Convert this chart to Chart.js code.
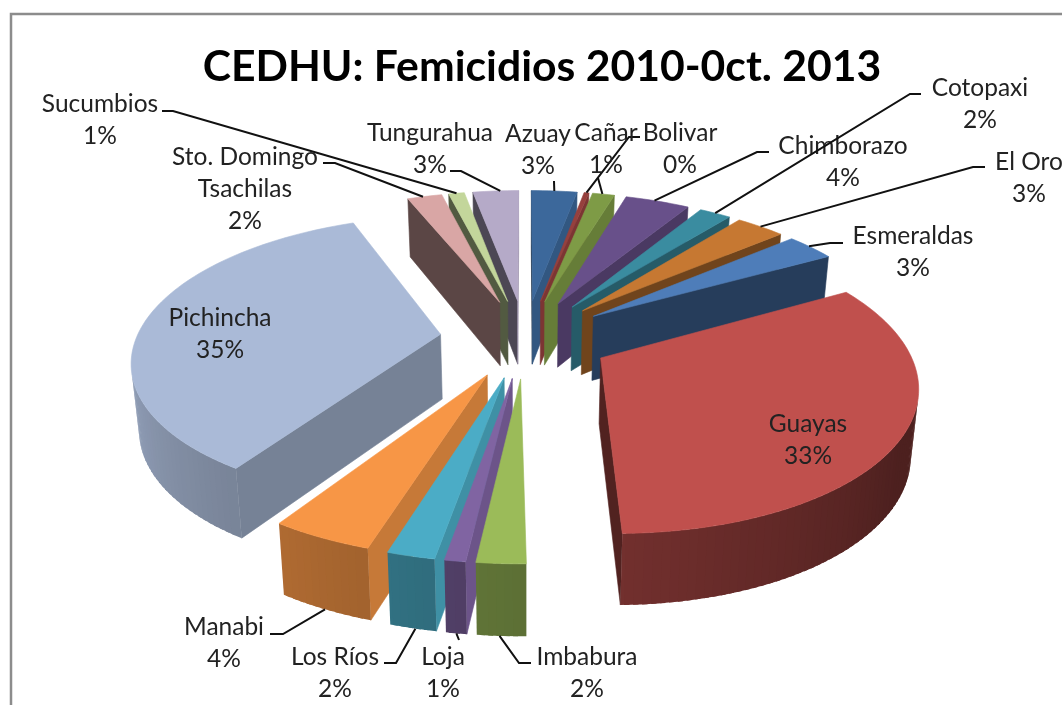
<!DOCTYPE html>
<html lang="es">
<head>
<meta charset="utf-8">
<title>CEDHU: Femicidios</title>
<script src="https://cdn.jsdelivr.net/npm/chart.js@4"></script>
<style>
  html, body { margin: 0; background: #fff; overflow: hidden; }
  canvas { display: block; }
</style>
</head>
<body>
<canvas id="grafico" width="1062" height="705"></canvas>
<script>
// Datos
const provincias = ["Azuay", "Bolivar", "Cañar", "Chimborazo", "Cotopaxi", "El Oro", "Esmeraldas", "Guayas",
  "Imbabura", "Loja", "Los Ríos", "Manabi", "Pichincha", "Sto. Domingo\nTsachilas", "Sucumbios", "Tungurahua"];
const valores = [2.9, 0.3, 1.4, 4.1, 2, 3.1, 3.1, 32.8, 2.1, 0.9, 2.05, 4.4, 34.7, 2.2, 1, 2.9];
const porcentajes = ["3%", "0%", "1%", "4%", "2%", "3%", "3%", "33%", "2%", "1%", "2%", "4%", "35%", "2%", "1%", "3%"];

const colores = ["#3C689B", "#96403D", "#7E9B46", "#68508A", "#3A8CA0", "#C67832", "#4E7DB9", "#C0504D",
  "#9BBB59", "#8064A2", "#4BACC6", "#F79646", "#AABAD7", "#D9A6A5", "#C3D69B", "#B5AAC8"];

// Centro del texto (x, y de la primera linea) por provincia
const posTexto = [[538, 134], [680, 133], [606, 133], [843, 146], [980, 88], [1029, 162], [913, 236], [808, 424],
  [587, 657], [443, 657], [335, 657], [224, 627], [220, 318], [245, 157], [100, 104], [430, 133]];

// Tramo horizontal de cada linea guia, null si no hay; el ultimo punto sale del sector
const codos = [
  [[554, 181]], [[640, 137], [629, 137]], [[598, 178]], [[769, 152], [757, 152]], [[921, 94], [910, 94]],
  [[985, 167], [973, 167]], [[843, 243], [830, 243]], null,
  [[531, 663], [519, 663]], [[459, 640]], [[384, 663], [396, 663]], [[270, 634], [283, 634]], null,
  [[323, 163], [335, 163]], [[162, 111], [173, 111]], [[450, 171], [461, 171]]
];
// Punto del borde donde termina la guia (0 = inicio del sector, 1 = final)
const finGuia = [0.5, 0.5, 0.45, 0.45, 0.5, 0.5, 0.45, 0, 0.54, 0.5, 0.45, 0.5, 0, 0.45, 0.5, 0.6];

const TEXTO = '"Lato", "Open Sans", sans-serif';

// Camara de la vista en perspectiva
const camara = { cx: 525, cy: 338, ancho: 304, alto: 139.4, fuga: 0.164, fondo: 65, fondoVar: 5.8, cierre: 0.02 };

function proyectar(u, v, z) {
  const w = 1 - camara.fuga * v;
  return [
    camara.cx + camara.ancho * u / w * (1 - camara.cierre * z),
    camara.cy + camara.alto * v / w + z * (camara.fondo + camara.fondoVar * v)
  ];
}

function oscurecer(hex, f) {
  const n = parseInt(hex.slice(1), 16);
  return `rgb(${Math.round((n >> 16) * f)},${Math.round(((n >> 8) & 255) * f)},${Math.round((n & 255) * f)})`;
}

function area(p) {
  let s = 0;
  p.forEach((a, i) => {
    const b = p[(i + 1) % p.length];
    s += a[0] * b[1] - b[0] * a[1];
  });
  return s;
}

function poligono(ctx, p, color, conBorde) {
  ctx.beginPath();
  p.forEach((a, i) => (i ? ctx.lineTo(a[0], a[1]) : ctx.moveTo(a[0], a[1])));
  ctx.closePath();
  ctx.fillStyle = color;
  ctx.fill();
  if (conBorde) {
    ctx.strokeStyle = color;
    ctx.lineWidth = 0.6;
    ctx.stroke();
  }
}

// Geometria de un sector a partir del elemento arc de Chart.js
function geometria(arc) {
  const p = arc.getProps(["startAngle", "endAngle", "outerRadius"], true);
  const medio = (p.startAngle + p.endAngle) / 2;
  const e = arc.options.offset / p.outerRadius;
  const punto = (r, a, z) => proyectar(r * Math.cos(a) + e * Math.cos(medio), r * Math.sin(a) + e * Math.sin(medio), z);
  return { a0: p.startAngle, a1: p.endAngle, medio, punto };
}

function luzPared(normal) {
  return 0.42 + 0.43 * Math.pow(Math.max(0, Math.cos(normal)), 2.5);
}

function luzBorde(a) {
  let g = a * 180 / Math.PI;
  if (g < -90) g += 360;
  return Math.min(0.92, Math.max(0.4, 0.4 + 0.5 * (g - 30) / 150));
}

function dibujarSector(ctx, arc, color) {
  const { a0, a1, punto } = geometria(arc);
  const pasos = Math.max(1, Math.ceil((a1 - a0) / 0.025));
  const da = (a1 - a0) / pasos;

  // paredes rectas
  const inicio = [punto(0, a0, 0), punto(1, a0, 0), punto(1, a0, 1), punto(0, a0, 1)];
  const fin = [punto(0, a1, 0), punto(1, a1, 0), punto(1, a1, 1), punto(0, a1, 1)];
  if (area(inicio) < 0) poligono(ctx, inicio, oscurecer(color, luzPared(a0 - Math.PI / 2)), true);
  if (area(fin) > 0) poligono(ctx, fin, oscurecer(color, luzPared(a1 + Math.PI / 2)), true);

  // borde exterior, por tramos solapados para el degradado
  for (let i = pasos - 1; i >= 0; i--) {
    const a = a0 + i * da;
    const b = Math.min(a1, a + da * 1.6);
    const q = [punto(1, a, 0), punto(1, b, 0), punto(1, b, 1), punto(1, a, 1)];
    if (area(q) < 0) poligono(ctx, q, oscurecer(color, luzBorde(a + da / 2)), false);
  }

  // cara de arriba
  const cara = [punto(0, a0, 0)];
  for (let i = 0; i <= pasos; i++) cara.push(punto(1, a0 + i * da, 0));
  poligono(ctx, cara, color, true);
}

const pastel3d = {
  id: "pastel3d",
  beforeDraw(chart) {
    // marco gris del grafico, solo arriba e izquierda
    const ctx = chart.ctx;
    ctx.save();
    ctx.strokeStyle = "#8c8c8c";
    ctx.lineWidth = 2.5;
    ctx.beginPath();
    ctx.moveTo(11, chart.height);
    ctx.lineTo(11, 14);
    ctx.lineTo(chart.width, 14);
    ctx.stroke();
    ctx.restore();
  },
  beforeDatasetDraw(chart) {
    const ctx = chart.ctx;
    const arcos = chart.getDatasetMeta(0).data;
    const orden = arcos.map((arc, i) => i).sort((i, j) => {
      return Math.sin(geometria(arcos[i]).medio) - Math.sin(geometria(arcos[j]).medio);
    });
    ctx.save();
    orden.forEach(i => dibujarSector(ctx, arcos[i], colores[i]));
    ctx.restore();
    return false;
  },
  afterDraw(chart) {
    const ctx = chart.ctx;
    const arcos = chart.getDatasetMeta(0).data;
    ctx.save();
    arcos.forEach((arc, i) => {
      if (codos[i]) {
        const { a0, a1, medio, punto } = geometria(arc);
        const abajo = Math.sin(medio) > 0;
        const fin = punto(1, a0 + (a1 - a0) * finGuia[i], abajo ? 1 : 0);
        ctx.strokeStyle = "#111";
        ctx.lineWidth = 2;
        ctx.beginPath();
        codos[i].forEach((c, k) => (k ? ctx.lineTo(c[0], c[1]) : ctx.moveTo(c[0], c[1])));
        ctx.lineTo(fin[0], fin[1]);
        ctx.stroke();
      }
      const lineas = provincias[i].split("\n").concat(porcentajes[i]);
      ctx.fillStyle = "#222";
      ctx.font = `24.5px ${TEXTO}`;
      ctx.textAlign = "center";
      ctx.textBaseline = "middle";
      lineas.forEach((t, k) => ctx.fillText(t, posTexto[i][0], posTexto[i][1] + k * 32));
    });
    ctx.restore();
  }
};

new Chart(document.getElementById("grafico"), {
  type: "pie",
  data: {
    labels: provincias.map(p => p.replace("\n", " ")),
    datasets: [{
      data: valores,
      backgroundColor: colores,
      borderWidth: 0,
      offset: 74
    }]
  },
  options: {
    responsive: false,
    animation: false,
    rotation: 0,
    layout: { padding: { left: 22 } },
    plugins: {
      legend: { display: false },
      tooltip: { enabled: false },
      title: {
        display: true,
        text: "CEDHU: Femicidios 2010-0ct. 2013",
        color: "#000",
        font: { family: TEXTO, size: 42.7, weight: "bold" },
        padding: { top: 42, bottom: 10 }
      }
    }
  },
  plugins: [pastel3d]
});
</script>
</body>
</html>
